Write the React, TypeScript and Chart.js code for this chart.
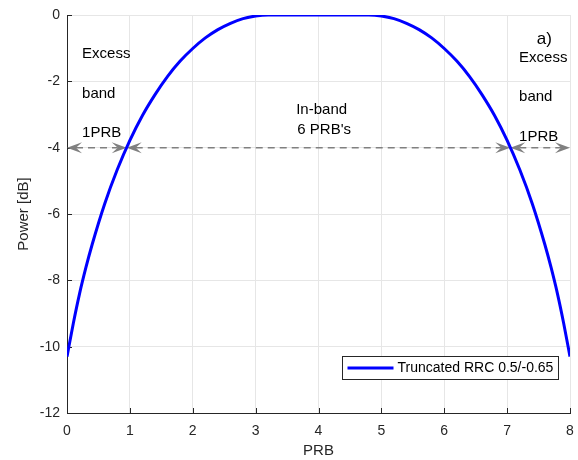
import React, { useEffect, useRef } from "react";
import { Chart, registerables } from "chart.js";

Chart.register(...registerables);

// ---- data ----
const prb = [
  0, 0.1, 0.2, 0.3, 0.4, 0.6, 0.8, 1.0, 1.2, 1.4, 1.6, 1.8, 2.0, 2.2, 2.4, 2.6, 2.8, 3.0, 3.2,
  4.0,
  4.8, 5.0, 5.2, 5.4, 5.6, 5.8, 6.0, 6.2, 6.4, 6.6, 6.8, 7.0, 7.2, 7.4, 7.6, 7.7, 7.8, 7.9, 8.0,
];
const powerDb = [
  -10.3, -9.3, -8.4, -7.62, -6.92, -5.69, -4.66, -3.78, -3.03, -2.4, -1.85, -1.39, -1.01, -0.69, -0.44, -0.25, -0.11, -0.03, 0,
  0,
  0, -0.03, -0.11, -0.25, -0.44, -0.69, -1.01, -1.39, -1.85, -2.4, -3.03, -3.78, -4.66, -5.69, -6.92, -7.62, -8.4, -9.3, -10.3,
];
const seriesLabel = "Truncated RRC 0.5/-0.65";
const xTicks = [0, 1, 2, 3, 4, 5, 6, 7, 8];
const yTicks = [0, -2, -4, -6, -8, -10, -12];

// arrow spans at the -4 dB level (PRB units)
const arrowLevel = -4;
const arrowSpans: [number, number][] = [
  [0, 0.95],
  [0.95, 7.05],
  [7.05, 8],
];

// text annotations: [text, x, y, align, fontSize]
const notes: [string, number, number, CanvasTextAlign, number][] = [
  ["Excess", 0.24, -1.18, "left", 15],
  ["band", 0.24, -2.38, "left", 15],
  ["1PRB", 0.24, -3.56, "left", 15],
  ["a)", 7.47, -0.72, "left", 17],
  ["Excess", 7.19, -1.3, "left", 15],
  ["band", 7.19, -2.47, "left", 15],
  ["1PRB", 7.19, -3.68, "left", 15],
  ["In-band", 4.05, -2.86, "center", 15],
  ["6 PRB's", 4.09, -3.47, "center", 15],
];

const FONT = '"Liberation Sans", Arial, Helvetica, sans-serif';
const AXIS = "#262626";

const decorPlugin = {
  id: "decor",
  beforeDatasetsDraw(chart: any) {
    const { ctx, chartArea, scales } = chart;
    const { left, bottom } = chartArea;
    const xs = scales.x;
    const ys = scales.y;
    ctx.save();
    // inward tick marks
    ctx.strokeStyle = AXIS;
    ctx.lineWidth = 1;
    ctx.beginPath();
    xTicks.forEach((v) => {
      const px = Math.round(xs.getPixelForValue(v)) + 0.5;
      ctx.moveTo(px, bottom);
      ctx.lineTo(px, bottom - 5);
    });
    yTicks.forEach((v) => {
      const py = Math.round(ys.getPixelForValue(v)) + 0.5;
      ctx.moveTo(left, py);
      ctx.lineTo(left + 5, py);
    });
    ctx.stroke();

    // dashed double-headed arrows
    const py = ys.getPixelForValue(arrowLevel);
    const L = 15;
    const W = 5.5;
    const N = 9;
    const head = (tipX: number, dir: number) => {
      ctx.beginPath();
      ctx.moveTo(tipX, py);
      ctx.lineTo(tipX - dir * L, py - W);
      ctx.lineTo(tipX - dir * N, py);
      ctx.lineTo(tipX - dir * L, py + W);
      ctx.closePath();
      ctx.fill();
    };
    ctx.strokeStyle = "#808080";
    ctx.fillStyle = "#808080";
    ctx.lineWidth = 1.5;
    arrowSpans.forEach(([a, b]) => {
      const pa = xs.getPixelForValue(a);
      const pb = xs.getPixelForValue(b);
      ctx.setLineDash([7, 5]);
      ctx.beginPath();
      ctx.moveTo(pa + N, py);
      ctx.lineTo(pb - N, py);
      ctx.stroke();
      ctx.setLineDash([]);
      head(pa, -1);
      head(pb, 1);
    });
    ctx.restore();
  },
  afterDraw(chart: any) {
    const { ctx, scales } = chart;
    const xs = scales.x;
    const ys = scales.y;
    ctx.save();
    ctx.fillStyle = "#000000";
    ctx.textBaseline = "middle";
    notes.forEach(([t, x, y, align, size]) => {
      ctx.font = `${size}px ${FONT}`;
      ctx.textAlign = align;
      ctx.fillText(t, xs.getPixelForValue(x), ys.getPixelForValue(y));
    });

    // legend box (bottom-right, inside plot)
    const ds = chart.data.datasets[0];
    const bx = 342.5;
    const by = 356.5;
    const bw = 216;
    const bh = 23;
    ctx.fillStyle = "#ffffff";
    ctx.fillRect(bx, by, bw, bh);
    ctx.strokeStyle = AXIS;
    ctx.lineWidth = 1;
    ctx.strokeRect(bx, by, bw, bh);
    ctx.strokeStyle = ds.borderColor;
    ctx.lineWidth = 3;
    ctx.beginPath();
    ctx.moveTo(bx + 5, by + bh / 2);
    ctx.lineTo(bx + 51, by + bh / 2);
    ctx.stroke();
    ctx.fillStyle = "#000000";
    ctx.font = `14px ${FONT}`;
    ctx.textAlign = "left";
    ctx.fillText(ds.label, bx + 55, by + bh / 2 + 0.5);
    ctx.restore();
  },
};

export default function App() {
  const ref = useRef<HTMLCanvasElement | null>(null);
  useEffect(() => {
    if (!ref.current) return;
    const chart = new Chart(ref.current, {
      type: "line",
      data: {
        datasets: [
          {
            label: seriesLabel,
            data: prb.map((x, i) => ({ x, y: powerDb[i] })),
            borderColor: "#0000ff",
            borderWidth: 3,
            pointRadius: 0,
            fill: false,
            cubicInterpolationMode: "monotone",
          },
        ],
      },
      options: {
        responsive: false,
        animation: false,
        layout: { padding: { top: 15, right: 8, bottom: 0, left: 0 } },
        plugins: { legend: { display: false }, tooltip: { enabled: false } },
        scales: {
          x: {
            type: "linear",
            min: 0,
            max: 8,
            afterBuildTicks: (s: any) => {
              s.ticks = xTicks.map((v) => ({ value: v }));
            },
            ticks: { color: AXIS, font: { family: FONT, size: 14 }, padding: 10, maxRotation: 0 },
            grid: { color: "#e6e6e6", drawTicks: false, lineWidth: 1 },
            border: { color: AXIS, width: 1 },
            title: {
              display: true,
              text: "PRB",
              color: AXIS,
              font: { family: FONT, size: 15 },
              padding: { top: 0, bottom: 0 },
            },
            afterFit: (s: any) => {
              s.height = 47;
              s.paddingRight = 0;
              s.paddingLeft = 0;
            },
          },
          y: {
            type: "linear",
            min: -12,
            max: 0,
            afterBuildTicks: (s: any) => {
              s.ticks = yTicks.map((v) => ({ value: v }));
            },
            ticks: { color: AXIS, font: { family: FONT, size: 14 }, padding: 7 },
            grid: { color: "#e6e6e6", drawTicks: false, lineWidth: 1 },
            border: { color: AXIS, width: 1 },
            title: {
              display: true,
              text: "Power [dB]",
              color: AXIS,
              font: { family: FONT, size: 15 },
              padding: { top: 15, bottom: 0 },
            },
            afterFit: (s: any) => {
              s.width = 67;
              s.paddingTop = 0;
              s.paddingBottom = 0;
            },
          },
        },
      },
      plugins: [decorPlugin],
    } as any);
    return () => chart.destroy();
  }, []);
  return (
    <div style={{ position: "absolute", left: 0, top: 0, width: 578, height: 460, background: "#fff" }}>
      <canvas ref={ref} width={578} height={460} />
    </div>
  );
}
